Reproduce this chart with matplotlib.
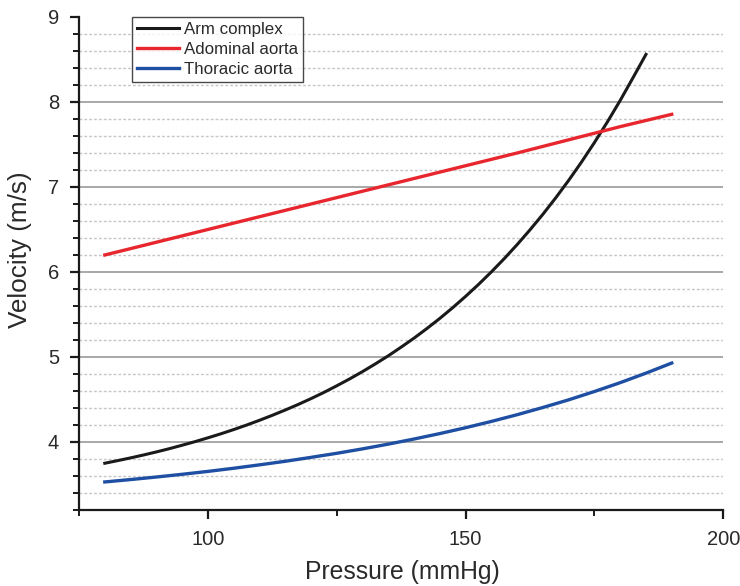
import numpy as np
import matplotlib
matplotlib.use('Agg')
import matplotlib.pyplot as plt
from matplotlib.ticker import MultipleLocator, FixedLocator

plt.rcParams['font.family'] = ['Liberation Sans', 'DejaVu Sans']

# pressure (mmHg) and pulse wave velocity (m/s)
p_arm = [80, 82.5, 85, 87.5, 90, 92.5, 95, 97.5, 100, 102.5, 105, 107.5, 110,
         112.5, 115, 117.5, 120, 122.5, 125, 127.5, 130, 132.5, 135, 137.5,
         140, 142.5, 145, 147.5, 150, 152.5, 155, 157.5, 160, 162.5, 165,
         167.5, 170, 172.5, 175, 177.5, 180, 182.5, 185]
v_arm = [3.750, 3.781, 3.813, 3.847, 3.883, 3.921, 3.962, 4.004, 4.049, 4.096,
         4.146, 4.199, 4.255, 4.314, 4.376, 4.441, 4.510, 4.583, 4.661, 4.742,
         4.828, 4.919, 5.014, 5.116, 5.222, 5.335, 5.454, 5.580, 5.713, 5.853,
         6.001, 6.157, 6.322, 6.496, 6.679, 6.873, 7.078, 7.294, 7.523, 7.764,
         8.018, 8.287, 8.560]

p_abd = [80, 100, 120, 140, 160, 180, 190]
v_abd = [6.20, 6.50, 6.80, 7.10, 7.40, 7.71, 7.855]

p_thor = [80, 85, 90, 95, 100, 105, 110, 115, 120, 125, 130, 135, 140, 145,
          150, 155, 160, 165, 170, 175, 180, 185, 190]
v_thor = [3.530, 3.558, 3.588, 3.620, 3.654, 3.691, 3.731, 3.773, 3.819, 3.867,
          3.919, 3.975, 4.035, 4.099, 4.168, 4.242, 4.321, 4.406, 4.496, 4.594,
          4.698, 4.810, 4.929]

labels = ['Arm complex', 'Adominal aorta', 'Thoracic aorta']
colors = ['#1a1a1a', '#e8262d', '#1f4fa3']

fig = plt.figure(figsize=(7.4, 5.86), dpi=100)
ax = fig.add_axes([0.1068, 0.1297, 0.8706, 0.8413])

ax.set_xlim(75, 200)
ax.set_ylim(3.2, 9)

# horizontal guide lines: solid at whole numbers, dotted every 0.2 in between
major_y = [4, 5, 6, 7, 8]
minor_y = [v for v in np.round(np.arange(3.4, 9.0, 0.2), 1) if v not in major_y]
ax.hlines(minor_y, 75, 200, color='#c6c6c6', lw=1.0, ls=(0, (2, 1.5)), zorder=1)
ax.hlines(major_y, 75, 200, color='#9a9a9a', lw=1.2, zorder=1)

ax.plot(p_arm, v_arm, color=colors[0], lw=2.2, label=labels[0], zorder=3)
ax.plot(p_abd, v_abd, color=colors[1], lw=2.4, label=labels[1], zorder=3)
ax.plot(p_thor, v_thor, color=colors[2], lw=2.4, label=labels[2], zorder=3)

ax.xaxis.set_major_locator(FixedLocator([100, 150, 200]))
ax.xaxis.set_minor_locator(FixedLocator([75, 125, 175]))
ax.yaxis.set_major_locator(MultipleLocator(1))
ax.yaxis.set_minor_locator(MultipleLocator(0.2))

for s in ['top', 'right']:
    ax.spines[s].set_visible(False)
for s in ['left', 'bottom']:
    ax.spines[s].set_linewidth(1.6)
    ax.spines[s].set_color('#1a1a1a')

ax.tick_params(which='major', direction='out', length=6.5, width=1.6,
               labelsize=14.5, labelcolor='#2a2a2a', color='#1a1a1a', pad=8)
ax.tick_params(which='minor', direction='out', length=4, width=1.4, color='#1a1a1a')

ax.set_xlabel('Pressure (mmHg)', fontsize=17.8, color='#2a2a2a')
ax.xaxis.set_label_coords(0.502, -0.101)
ax.set_ylabel('Velocity (m/s)', fontsize=18.8, color='#2a2a2a')
ax.yaxis.set_label_coords(-0.073, 0.529)

leg = ax.legend(loc='upper left', bbox_to_anchor=(0.0823, 1.0), borderaxespad=0,
                fontsize=12.2, frameon=True, fancybox=False, handlelength=2.5,
                handletextpad=0.25, labelspacing=0.3, borderpad=0.3)
leg.get_frame().set_edgecolor('#1a1a1a')
leg.get_frame().set_linewidth(1.0)
for t in leg.get_texts():
    t.set_color('#2a2a2a')

fig.savefig('out.png', dpi=100)
